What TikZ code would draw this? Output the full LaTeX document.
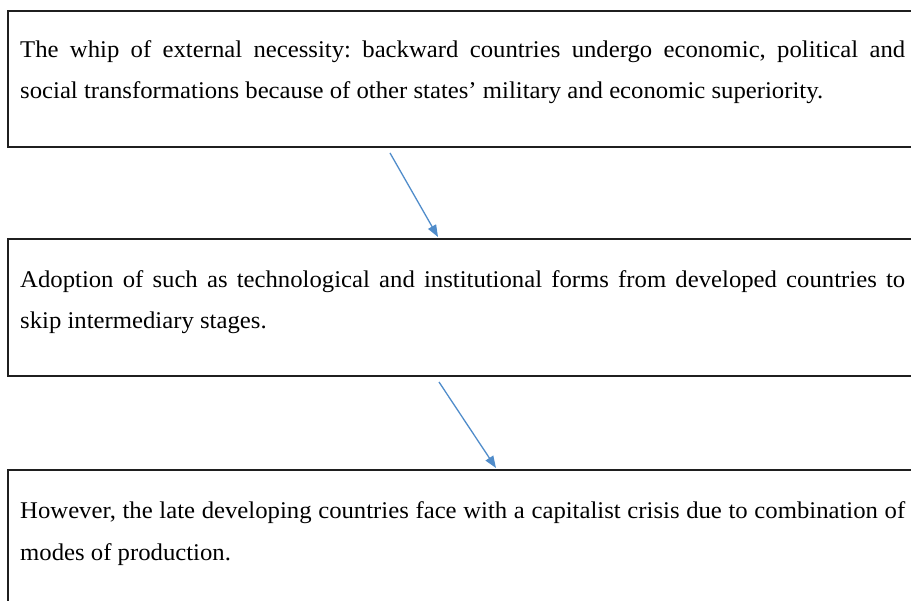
\documentclass[tikz,border=0pt]{standalone}
\usepackage{fontspec}
\setmainfont[FakeStretch=1.03]{Liberation Serif}
\usetikzlibrary{calc,arrows.meta}
\hyphenpenalty=10000
\frenchspacing
\definecolor{arrowblue}{RGB}{80,140,202}
\tikzset{
  frame/.style={draw=black!88, line width=2pt, rectangle, anchor=north west, inner sep=0pt, minimum width=930pt},
  boxtext/.style={anchor=base west, inner sep=0pt, text width=885pt, align=justify, font=\fontsize{24}{41}\selectfont},
  flow/.style={draw=arrowblue, line width=1.3pt, -{Triangle[length=12pt,width=9pt]}}
}
\begin{document}
\begin{tikzpicture}[x=1pt,y=-1pt]
\useasboundingbox (0,0) rectangle (911,601);
\clip (0,0) rectangle (911,601);
\node[frame, minimum height=136pt] (b1) at (7,10) {};
\node[frame, minimum height=137pt] (b2) at (7,238) {};
\node[frame, minimum height=200pt] (b3) at (7,469) {};
\node[boxtext] (t1) at (20,58) {The whip of external necessity: backward countries undergo economic, political and\linebreak social transformations because of other states’ military and economic superiority.};
\node[boxtext] (t2) at (20,288) {Adoption of such as technological and institutional forms from developed countries to\linebreak skip intermediary stages.};
\node[boxtext] (t3) at (20,519) {However, the late developing countries face with a capitalist crisis due to combination of\linebreak modes of production.};
\coordinate (a1s) at ($(b1.south west)+(383,5)$);
\coordinate (a1e) at ($(b2.north west)+(431,-1)$);
\coordinate (a2s) at ($(b2.south west)+(432,5)$);
\coordinate (a2e) at ($(b3.north west)+(489,-1)$);
\draw[flow] (a1s) -- (a1e);
\draw[flow] (a2s) -- (a2e);
\end{tikzpicture}
\end{document}
